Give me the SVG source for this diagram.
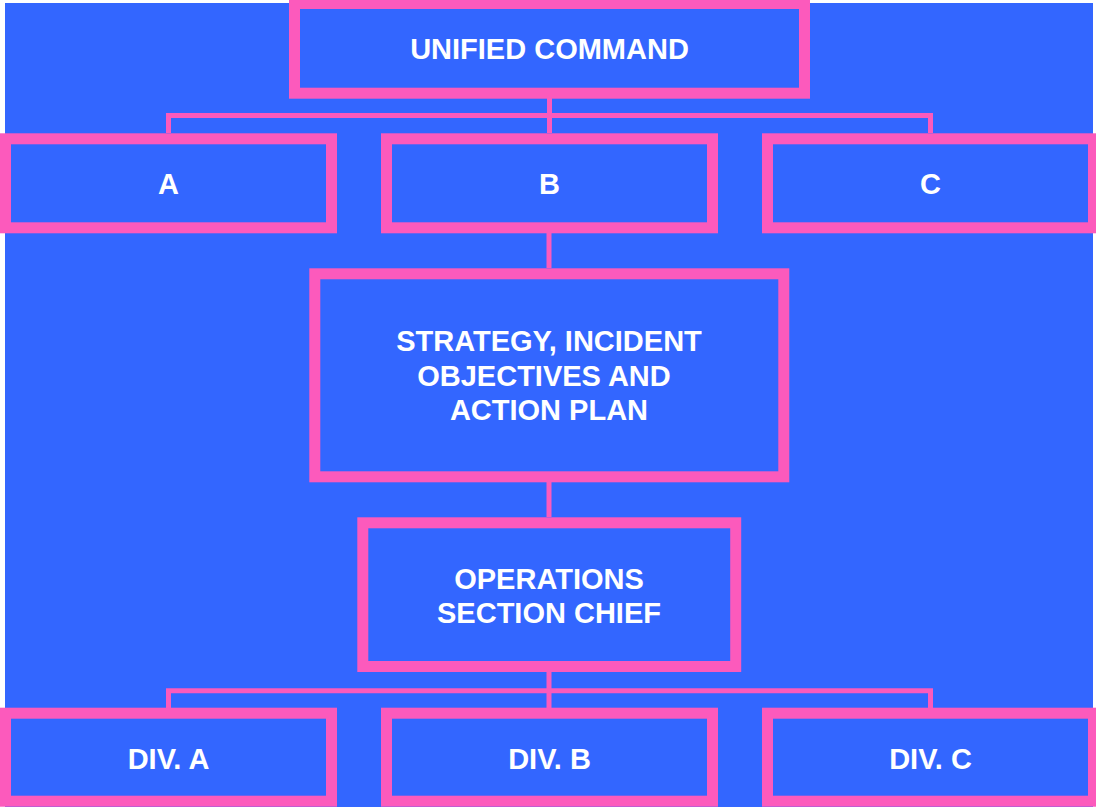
<svg xmlns="http://www.w3.org/2000/svg" width="1096" height="807" viewBox="0 0 1096 807">
<style>
.box{fill:#3366FF;stroke:#FC5ABC;stroke-width:11}
.ln{fill:none;stroke:#FC5ABC;stroke-width:5}
text{font-family:"Liberation Sans",Arial,sans-serif;font-weight:bold;font-size:29px;fill:#FFFFFF;text-anchor:middle}
</style>
<rect x="5" y="3" width="1088" height="804" fill="#3366FF"/>
<g id="connectors">
<path class="ln" d="M549.5 98 V133"/>
<path class="ln" d="M168.5 133 V115.5 H930.5 V133"/>
<path class="ln" d="M549 233 V268"/>
<path class="ln" d="M549 482 V517"/>
<path class="ln" d="M549 672 V708"/>
<path class="ln" d="M168.5 708 V690.8 H930.5 V708"/>
</g>
<g id="unified">
<rect class="box" x="294.5" y="3.5" width="510" height="89.7"/>
<text x="549.5" y="58.7">UNIFIED COMMAND</text>
</g>
<g id="a">
<rect class="box" x="5.5" y="138.8" width="326" height="89"/>
<text x="168.5" y="193.6">A</text>
</g>
<g id="b">
<rect class="box" x="386.5" y="138.8" width="326" height="89"/>
<text x="549.5" y="193.6">B</text>
</g>
<g id="c">
<rect class="box" x="767.5" y="138.8" width="326" height="89"/>
<text x="930.5" y="193.6">C</text>
</g>
<g id="strategy">
<rect class="box" x="314.8" y="273.8" width="469" height="203"/>
<text x="549" y="351">STRATEGY, INCIDENT</text>
<text x="544" y="386">OBJECTIVES AND</text>
<text x="549" y="420">ACTION PLAN</text>
</g>
<g id="ops">
<rect class="box" x="362.8" y="522.8" width="372.9" height="143.7"/>
<text x="549" y="589">OPERATIONS</text>
<text x="549" y="623">SECTION CHIEF</text>
</g>
<g id="diva">
<rect class="box" x="5.5" y="713.2" width="326" height="88"/>
<text x="168.5" y="768.6">DIV. A</text>
</g>
<g id="divb">
<rect class="box" x="386.5" y="713.2" width="326" height="88"/>
<text x="549.5" y="768.6">DIV. B</text>
</g>
<g id="divc">
<rect class="box" x="767.5" y="713.2" width="326" height="88"/>
<text x="930.5" y="768.6">DIV. C</text>
</g>
</svg>
